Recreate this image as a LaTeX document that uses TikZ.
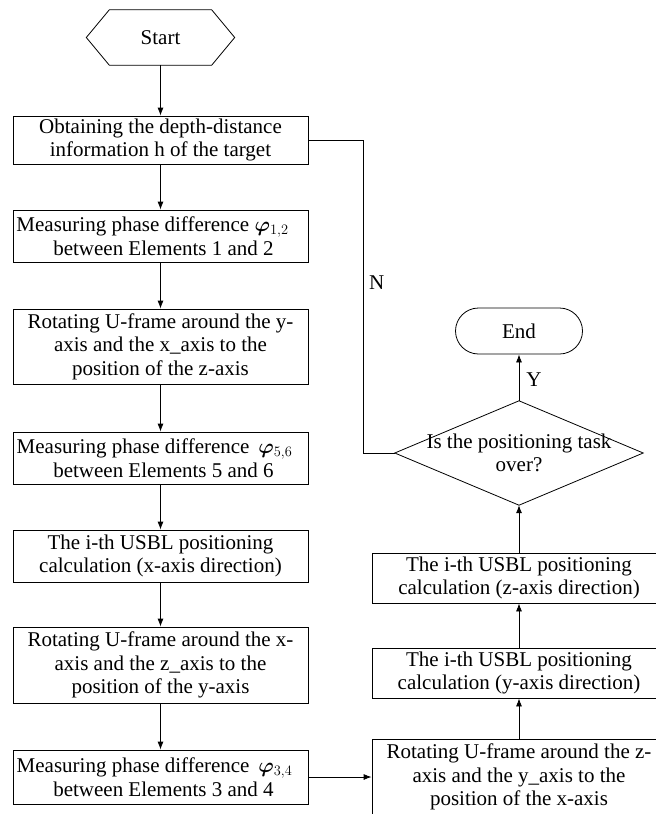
\documentclass[tikz,border=0pt]{standalone}
\usepackage{fontspec}
\setmainfont{Liberation Serif}
\usepackage{bm}
\usetikzlibrary{arrows.meta}
\begin{document}
\begin{tikzpicture}[x=1pt,y=-1pt,
  every node/.style={font=\fontsize{21}{23.5}\selectfont},
  lbox/.style={draw, line width=0.8pt, minimum width=295pt, inner sep=0pt, align=center},
  rbox/.style={draw, line width=0.8pt, minimum width=294pt, inner sep=0pt, align=center},
  arr/.style={line width=0.8pt, -{Latex[length=8pt,width=6pt]}},
  conn/.style={line width=0.8pt}]
\useasboundingbox (0,0) rectangle (656,814);
% start hexagon
\node[inner sep=0pt, minimum width=102pt, minimum height=55pt] (start) at (160.5,37.5) {Start};
\draw[conn] (start.north west) -- (start.north east) -- ([xshift=23pt]start.east) -- (start.south east) -- (start.south west) -- ([xshift=-23pt]start.west) -- cycle;
% left column
\node[lbox, minimum height=48pt] (b1) at (160.5,140) {Obtaining the depth-distance\\information h of the target};
\node[lbox, minimum height=52pt] (b2) at (160.5,236) {Measuring phase difference $\bm{\varphi}_{1,2}$\hspace*{16pt}\\\hspace*{6pt}between Elements 1 and 2};
\node[lbox, minimum height=75pt] (b3) at (160.5,346.5) {Rotating U-frame around the y-\\axis and the x\_axis to the\\position of the z-axis};
\node[lbox, minimum height=52pt] (b4) at (160.5,458) {Measuring phase difference\, $\bm{\varphi}_{5,6}$\hspace*{12pt}\\\hspace*{6pt}between Elements 5 and 6};
\node[lbox, minimum height=52pt] (b5) at (160.5,556) {The i-th USBL positioning\\calculation (x-axis direction)};
\node[lbox, minimum height=76pt] (b6) at (160.5,665) {Rotating U-frame around the x-\\axis and the z\_axis to the\\position of the y-axis};
\node[lbox, minimum height=54pt] (b7) at (160.5,777) {Measuring phase difference\, $\bm{\varphi}_{3,4}$\hspace*{12pt}\\\hspace*{6pt}between Elements 3 and 4};
% right column
\node[rbox, minimum height=75pt] (rotz) at (519,777) {Rotating U-frame around the z-\\axis and the y\_axis to the\\position of the x-axis};
\node[rbox, minimum height=50pt] (ybox) at (519,673) {The i-th USBL positioning\\calculation (y-axis direction)};
\node[rbox, minimum height=50pt] (zbox) at (519,578) {The i-th USBL positioning\\calculation (z-axis direction)};
\node[inner sep=0pt, minimum width=248pt, minimum height=104pt, align=center] (dia) at (519,453) {Is the positioning task\\over?};
\draw[conn] (dia.north) -- (dia.east) -- (dia.south) -- (dia.west) -- cycle;
\node[draw, line width=0.8pt, rounded corners=23pt, minimum width=127pt, minimum height=46pt, inner sep=0pt] (end) at (519,331) {End};
% connectors
\draw[arr] (start.south) -- (b1.north);
\draw[arr] (b1.south) -- (b2.north);
\draw[arr] (b2.south) -- (b3.north);
\draw[arr] (b3.south) -- (b4.north);
\draw[arr] (b4.south) -- (b5.north);
\draw[arr] (b5.south) -- (b6.north);
\draw[arr] (b6.south) -- (b7.north);
\draw[arr] (b7.east) -- (rotz.west);
\draw[arr] (rotz.north) -- (ybox.south);
\draw[arr] (ybox.north) -- (zbox.south);
\draw[arr] (zbox.north) -- (dia.south);
\draw[arr] (dia.north) -- node[right, inner sep=0pt, xshift=7pt, yshift=-2pt] (ylab) {Y} (end.south);
\coordinate (nc) at (363,140);
\draw[conn] (dia.west) -| (nc) -- (b1.east);
\node[anchor=west, inner sep=0pt] (nlab) at (369,283) {N};
\end{tikzpicture}
\end{document}
